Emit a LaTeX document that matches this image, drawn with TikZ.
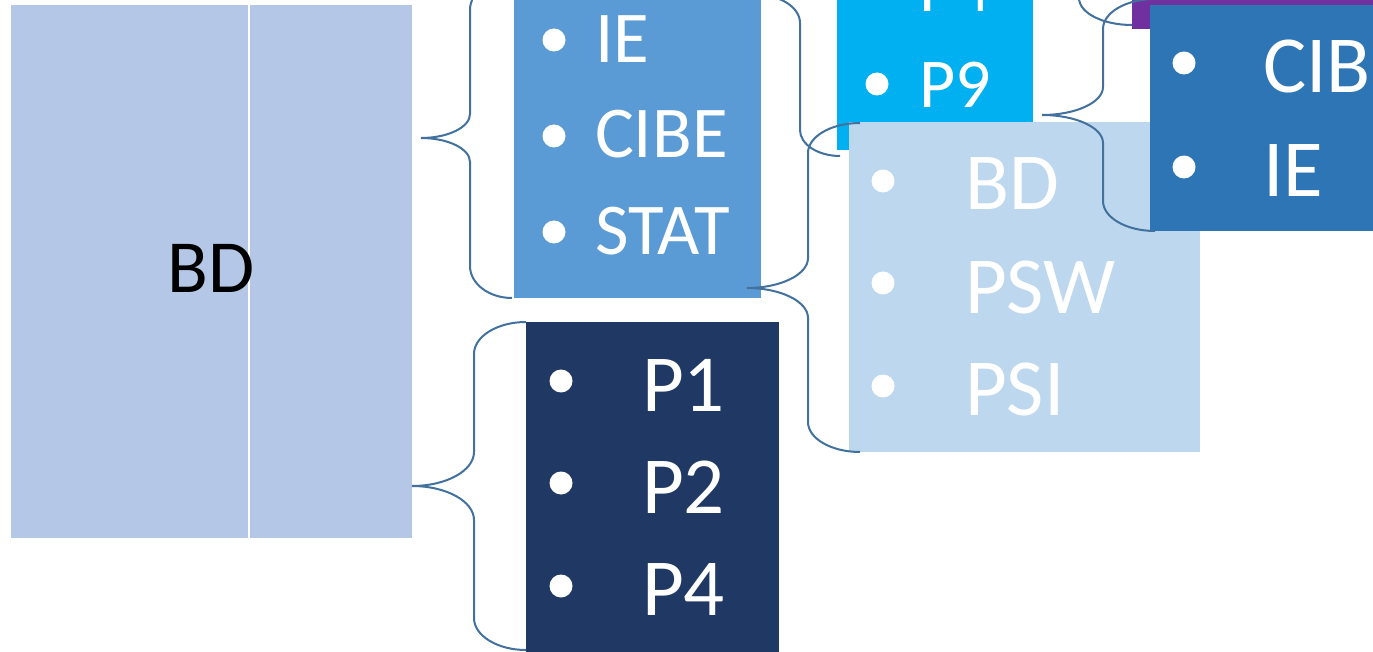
\documentclass[tikz,border=0pt]{standalone}
\usepackage{fontspec}
\setmainfont{Carlito}
\definecolor{cBD}{HTML}{B4C7E7}
\definecolor{cIE}{HTML}{5B9BD5}
\definecolor{cCyan}{HTML}{00B0F0}
\definecolor{cPSW}{HTML}{BDD7EE}
\definecolor{cRight}{HTML}{2E75B6}
\definecolor{cDark}{HTML}{203864}
\definecolor{cPurple}{HTML}{7030A0}
\definecolor{cBrace}{HTML}{41719C}
% #1 tip x, #2 vertical x, #3 end x, #4 top y, #5 tip y, #6 bottom y, #7 corner height, #8 tip height
\newcommand{\cbrace}[8]{%
  \draw[bracestyle] (#3,#4) .. controls ({#3-0.552*(#3-#2)},#4) and (#2,{#4+0.448*#7}) .. (#2,{#4+#7})
    -- (#2,{#5-#8}) .. controls (#2,{#5-0.448*#8}) and ({#1+0.552*(#2-#1)},#5) .. (#1,#5)
    .. controls ({#1+0.552*(#2-#1)},#5) and (#2,{#5+0.448*#8}) .. (#2,{#5+#8})
    -- (#2,{#6-#7}) .. controls (#2,{#6-0.448*#7}) and ({#3-0.552*(#3-#2)},#6) .. (#3,#6);}
\begin{document}
\begin{tikzpicture}[x=1pt,y=-1pt,
  box/.style={inner sep=0pt, outer sep=0pt, anchor=north west, draw=none},
  item/.style={anchor=base west, inner sep=0pt, outer sep=0pt, text=white},
  fsA/.style={item, font=\fontsize{73}{73}\selectfont},
  fsB/.style={item, font=\fontsize{70}{70}\selectfont},
  fsC/.style={item, font=\fontsize{81}{81}\selectfont},
  bul/.style={fill=white},
  bracestyle/.style={draw=cBrace, line width=2pt}]
\useasboundingbox (0,0) rectangle (1373,652);
\clip (0,0) rectangle (1373,652);
\fill[white] (0,0) rectangle (1373,652);
% boxes
\node[box, fill=cBD, minimum width=401pt, minimum height=533pt] (bd) at (11,5) {};
\draw[white, line width=1.2pt] (249,5) -- (249,538);
\node[anchor=base west, inner sep=0pt, font=\fontsize{75}{75}\selectfont] (bdt) at (167,293) {BD};
\node[box, fill=cIE, minimum width=247pt, minimum height=320pt] (ie) at (514,-22) {};
\node[box, fill=cCyan, minimum width=196pt, minimum height=200pt] (cy) at (837,-50) {};
\node[box, fill=cPSW, minimum width=351pt, minimum height=330pt] (psw) at (849,122) {};
\node[box, fill=cPurple, minimum width=260pt, minimum height=60pt] (pu) at (1132,-31) {};
\node[box, fill=cRight, minimum width=240pt, minimum height=226pt] (rt) at (1150,5) {};
\node[box, fill=cDark, minimum width=253pt, minimum height=350pt] (dk) at (526,322) {};
% IE box items
\fill[bul] (554,40) circle (11.5pt); \node[fsA] (t1) at (595,63) {IE};
\fill[bul] (554,136) circle (11.5pt); \node[fsA] (t2) at (595,158) {CIBE};
\fill[bul] (554,232) circle (11.5pt); \node[fsA] (t3) at (595,255) {STAT};
% cyan items
\fill[bul] (877,-12) circle (11.5pt); \node[fsB] (t4) at (919,12) {P4};
\fill[bul] (877,84) circle (11.5pt); \node[fsB] (t5) at (919,108) {P9};
% PSW items
\fill[bul] (883,181) circle (11.5pt); \node[fsC] (t6) at (965,210) {BD};
\fill[bul] (883,283) circle (11.5pt); \node[fsC] (t7) at (965,313) {PSW};
\fill[bul] (883,386) circle (11.5pt); \node[fsC] (t8) at (965,415) {PSI};
% right box items
\fill[bul] (1184,63) circle (11.5pt); \node[fsC] (t9) at (1263,93) {CIBE};
\fill[bul] (1184,167) circle (11.5pt); \node[fsC] (t10) at (1263,197) {IE};
% dark box items
\fill[bul] (561,381) circle (11.5pt); \node[fsC] (t11) at (642,411) {P1};
\fill[bul] (561,483) circle (11.5pt); \node[fsC] (t12) at (642,513) {P2};
\fill[bul] (561,586) circle (11.5pt); \node[fsC] (t13) at (642,615) {P4};
% braces
\cbrace{421}{470}{512}{-22}{138}{298}{32}{24}
\cbrace{747}{808}{860}{123}{288}{452}{30}{30}
\cbrace{757}{800}{840}{-166}{-5}{156}{26}{28}
\cbrace{1042}{1103}{1155}{-1}{115}{231}{30}{28}
\cbrace{1030}{1079}{1132}{-225}{-100}{25}{27}{28}
\cbrace{412}{474}{526}{322}{486}{650}{32}{34}
\end{tikzpicture}
\end{document}
